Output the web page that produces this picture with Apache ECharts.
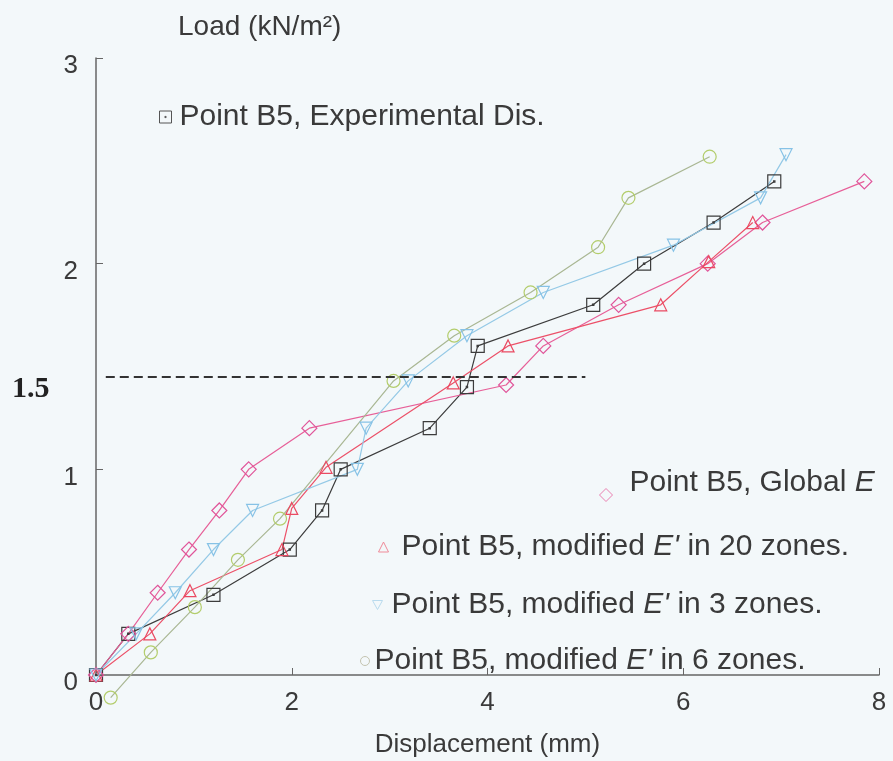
<!DOCTYPE html>
<html>
<head>
<meta charset="utf-8">
<script src="https://cdn.jsdelivr.net/npm/echarts@6/dist/echarts.min.js"></script>
<style>
html, body { margin: 0; padding: 0; background: #f3f8fa; }
#main { width: 893px; height: 761px; }
</style>
</head>
<body>
<div id="main"></div>
<script>
// 数据: 位移 (mm) / 荷载 (kN/m2)
var expX = [0, 0.33, 1.2, 1.98, 2.31, 2.5, 3.41, 3.79, 3.9, 5.08, 5.6, 6.31, 6.93];
var expY = [0, 0.2, 0.39, 0.61, 0.8, 1.0, 1.2, 1.4, 1.6, 1.8, 2.0, 2.2, 2.4];

var globX = [0, 0.33, 0.63, 0.95, 1.26, 1.56, 2.18, 4.19, 4.57, 5.34, 6.25, 6.81, 7.85];
var globY = [0, 0.2, 0.4, 0.61, 0.8, 1.0, 1.2, 1.41, 1.6, 1.8, 2.0, 2.2, 2.4];

var z20X = [0, 0.55, 0.96, 1.9, 2.0, 2.35, 3.65, 4.21, 5.77, 6.26, 6.71];
var z20Y = [0, 0.2, 0.41, 0.61, 0.81, 1.01, 1.42, 1.6, 1.8, 2.01, 2.2];

var z3X = [0, 0.41, 0.81, 1.2, 1.6, 2.67, 2.76, 3.19, 3.79, 4.57, 5.9, 6.79, 7.05];
var z3Y = [0, 0.2, 0.4, 0.61, 0.8, 1.0, 1.2, 1.43, 1.65, 1.86, 2.09, 2.32, 2.53];

var z6X = [0.15, 0.56, 1.01, 1.45, 1.88, 3.04, 3.66, 4.44, 5.13, 5.44, 6.27];
var z6Y = [-0.11, 0.11, 0.33, 0.56, 0.76, 1.43, 1.65, 1.86, 2.08, 2.32, 2.52];

var refLoad = 1.45;   // 虚线
var refLabel = '1.5';

var names = [
	'Point B5, Experimental Dis.',
	'Point B5, Global E',
	"Point B5, modified E' in 20 zones.",
	"Point B5, modified E' in 3 zones.",
	"Point B5, modified E' in 6 zones."
];

function pairs(xs, ys) {
	return xs.map(function (x, i) { return [x, ys[i]]; });
}

var squareDot = 'path://M0,0H20V20H0Z M9,9H11V11H9Z';
var textColor = '#3a3a3a';
var rich = {
	a : { fontSize : 30, color : textColor, fontFamily : 'Liberation Sans' },
	i : { fontSize : 30, color : textColor, fontFamily : 'Liberation Sans', fontStyle : 'italic' }
};

function makeSeries(name, data, symbol, size, lineColor, symColor, rotate) {
	return {
		name : name,
		type : 'line',
		data : data,
		symbol : symbol,
		symbolSize : size,
		symbolRotate : rotate || 0,
		clip : false,
		lineStyle : { color : lineColor, width : 1.2 },
		itemStyle : { color : 'rgba(0,0,0,0)', borderColor : symColor, borderWidth : 1.2 },
		emphasis : { disabled : true },
		z : 3
	};
}

function makeLegend(name, icon, size, color, left, top, padLeft, padBottom, label) {
	return {
		data : [ { name : name, icon : icon, itemStyle : { color : 'rgba(0,0,0,0)', borderColor : color, borderWidth : 1 } } ],
		left : left,
		top : top,
		itemWidth : size,
		itemHeight : size,
		selectedMode : false,
		lineStyle : { opacity : 0 },
		formatter : function () { return label; },
		textStyle : { rich : rich, lineHeight : 30, padding : [0, 0, padBottom, padLeft] }
	};
}

var myChart = echarts.init(document.getElementById('main'));

var series = [
	makeSeries(names[0], pairs(expX, expY), squareDot, 13, '#3c3c3c', '#3c3c3c'),
	makeSeries(names[1], pairs(globX, globY), 'diamond', 15, '#e75f98', '#e0559a'),
	makeSeries(names[2], pairs(z20X, z20Y), 'triangle', 12, '#ec5068', '#ea4a62'),
	makeSeries(names[3], pairs(z3X, z3Y), 'triangle', 12, '#94c9e6', '#86c2e6', 180),
	makeSeries(names[4], pairs(z6X, z6Y), 'circle', 13, '#a9b793', '#b3cd6c')
];

series[0].markLine = {
	silent : true,
	symbol : 'none',
	label : { show : false },
	lineStyle : { color : '#333', width : 2, type : [9, 5] },
	data : [ [ { coord : [0.1, refLoad] }, { coord : [5.0, refLoad] } ] ]
};

myChart.setOption({
	backgroundColor : '#f3f8fa',
	animation : false,
	grid : { left : 96, right : 14, top : 58, bottom : 86, outerBoundsMode : 'none' },
	xAxis : {
		type : 'value',
		min : 0,
		max : 8,
		interval : 2,
		name : 'Displacement (mm)',
		nameLocation : 'middle',
		nameGap : 57,
		nameTextStyle : { fontSize : 26, color : textColor, fontFamily : 'Liberation Sans' },
		splitLine : { show : false },
		axisLine : { lineStyle : { color : '#666', width : 1.5 } },
		axisTick : { inside : true, length : 7, lineStyle : { color : '#666' } },
		axisLabel : { fontSize : 26, color : textColor, margin : 15, fontFamily : 'Liberation Sans' }
	},
	yAxis : {
		type : 'value',
		min : 0,
		max : 3,
		interval : 1,
		splitLine : { show : false },
		axisLine : { show : true, lineStyle : { color : '#666', width : 1.5 } },
		axisTick : { show : true, inside : true, length : 7, lineStyle : { color : '#666' } },
		axisLabel : {
			margin : 18,
			formatter : function (v) { return '{v|' + v + '}'; },
			rich : { v : { fontSize : 26, color : textColor, fontFamily : 'Liberation Sans', padding : [16, 0, 0, 0] } }
		}
	},
	legend : [
		makeLegend(names[0], squareDot, 12, '#555', 154, 97, 3, 0, '{a|' + names[0] + '}'),
		makeLegend(names[1], 'diamond', 13, '#ea7fb0', 594, 463, 12, 24, '{a|Point B5, Global }{i|E}'),
		makeLegend(names[2], 'triangle', 10, '#ef8a98', 373, 527, 8, 0, "{a|Point B5, modified }{i|E'}{a| in 20 zones.}"),
		makeLegend(names[3], 'path://M0,0L20,0L10,18Z', 10, '#b9dbee', 367, 585, 4, 0, "{a|Point B5, modified }{i|E'}{a| in 3 zones.}"),
		makeLegend(names[4], 'circle', 9, '#c4c4b0', 355, 641, 0, 0, "{a|Point B5, modified }{i|E'}{a| in 6 zones.}")
	],
	graphic : [
		{
			type : 'text',
			left : 178,
			top : 13,
			style : { text : 'Load (kN/m²)', fontSize : 28, fill : textColor, fontFamily : 'Liberation Sans' }
		},
		{
			type : 'text',
			left : 12,
			top : 374,
			style : { text : refLabel, fontSize : 30, fontWeight : 'bold', fill : '#222', fontFamily : 'Liberation Serif' }
		}
	],
	series : series
});
</script>
</body>
</html>
